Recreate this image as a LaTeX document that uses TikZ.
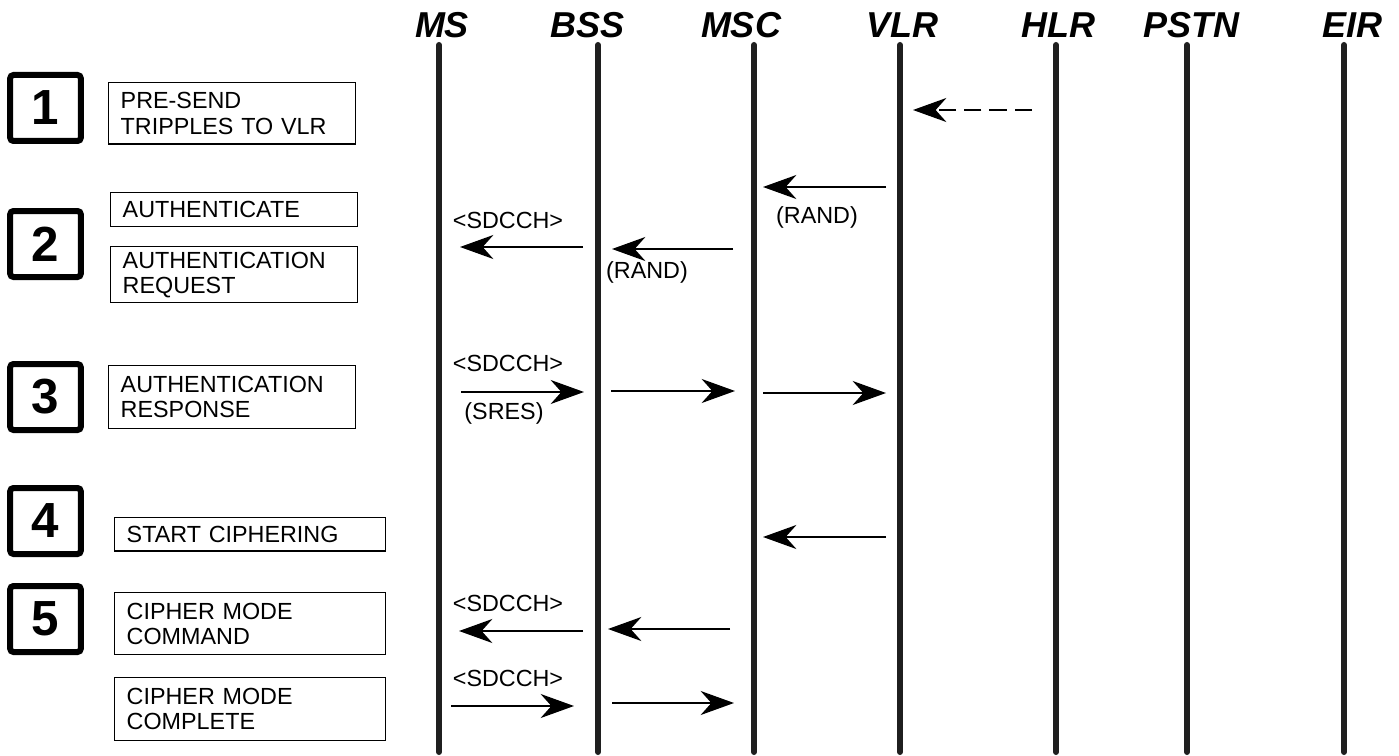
\documentclass[tikz,border=0pt]{standalone}
\usepackage{fontspec}
\setmainfont{Liberation Sans}
\usetikzlibrary{arrows.meta, positioning}

\begin{document}
\begin{tikzpicture}[x=0.75pt, y=-0.75pt,
    font=\fontsize{17.5pt}{19pt}\selectfont,
    hdr/.style   ={font=\fontsize{27pt}{29pt}\selectfont\bfseries\itshape, inner sep=0pt},
    life/.style  ={line width=4.5pt, line cap=round, black!88},
    numbox/.style={draw, line width=4.5pt, rounded corners=2.5pt, minimum width=53pt,
                   minimum height=49.5pt, inner sep=0pt,
                   font=\fontsize{37pt}{39pt}\selectfont\bfseries},
    msgbox/.style={draw, line width=1.1pt, anchor=north west, align=left,
                   text width=167pt, inner xsep=9pt, inner ysep=0pt},
    lbl/.style   ={inner sep=0pt},
    msg/.style   ={line width=1.6pt, -{Stealth[length=25pt, width=18pt, inset=8pt]}},
  ]
  \useasboundingbox (0,0) rectangle (1399,756);

  % Kopfzeile mit den Netzelementen
  \node[hdr] (ms)   at (442,25)  {MS};
  \node[hdr] (bss)  at (588,25)  {BSS};
  \node[hdr] (msc)  at (741,25)  {MSC};
  \node[hdr] (vlr)  at (902,25)  {VLR};
  \node[hdr] (hlr)  at (1058,25) {HLR};
  \node[hdr] (pstn) at (1191,25) {PSTN};
  \node[hdr] (eir)  at (1352,25) {EIR};

  % Lebenslinien
  \foreach \n/\x in {ms/439, bss/598, msc/754, vlr/900, hlr/1056, pstn/1187, eir/1344} {
    \coordinate (\n T) at (\x,45);
    \coordinate (\n B) at (\x,752);
    \draw[life] (\n T) -- (\n B);
  }

  % Schrittnummern
  \node[numbox] (n1) at (45.5,108) {1};
  \node[numbox] (n2) at (45.5,244) {2};
  \node[numbox] (n3) at (45.5,397) {3};
  \node[numbox] (n4) at (45.5,521) {4};
  \node[numbox] (n5) at (45.5,619) {5};

  % Beschriftungskaesten der Meldungen
  \node[msgbox, minimum height=46pt] (b1)  at (108,82)  {PRE-SEND\\TRIPPLES TO VLR};
  \node[msgbox, minimum height=25.5pt] (b2a) at (110,192) {AUTHENTICATE};
  \node[msgbox, minimum height=42pt] (b2b) at (110,246) {AUTHENTICATION\\REQUEST};
  \node[msgbox, minimum height=47pt] (b3)  at (108,365) {AUTHENTICATION\\RESPONSE};
  \node[msgbox, text width=185pt, minimum height=25pt] (b4)  at (114,517) {START CIPHERING};
  \node[msgbox, text width=185pt, minimum height=46.5pt] (b5a) at (114,592) {CIPHER MODE\\COMMAND};
  \node[msgbox, text width=185pt, minimum height=47pt] (b5b) at (114,677) {CIPHER MODE\\COMPLETE};

  % 1: Tripel vom HLR (gestrichelt)
  \coordinate (h1) at (1032,110);
  \coordinate (v1) at (913,110);
  \draw[msg, dash pattern=on 13pt off 6pt] (h1) -- (v1);

  % 2: Authentifizierung
  \coordinate (v2) at (886,187);  \coordinate (m2) at (763,187);
  \coordinate (m2b) at (733,249); \coordinate (b2) at (612,249);
  \coordinate (b2m) at (583,247); \coordinate (s2) at (460,247);
  \draw[msg] (v2) -- (m2);
  \draw[msg] (m2b) -- (b2);
  \draw[msg] (b2m) -- (s2);
  \node[lbl] (r2a) at (817,217) {(RAND)};
  \node[lbl] (r2b) at (647,272) {(RAND)};
  \node[lbl] (c2)  at (508,220) {<SDCCH>};

  % 3: Antwort SRES
  \coordinate (s3) at (461,392);  \coordinate (b3a) at (584,392);
  \coordinate (b3b) at (611,391); \coordinate (m3a) at (735,391);
  \coordinate (m3b) at (763,393); \coordinate (v3) at (886,393);
  \draw[msg] (s3) -- (b3a);
  \draw[msg] (b3b) -- (m3a);
  \draw[msg] (m3b) -- (v3);
  \node[lbl] (c3) at (508,363) {<SDCCH>};
  \node[lbl] (sr) at (504,413) {(SRES)};

  % 4: Start Ciphering
  \coordinate (v4) at (886,537); \coordinate (m4) at (763,537);
  \draw[msg] (v4) -- (m4);

  % 5: Cipher Mode Command / Complete
  \coordinate (m5) at (730,629);  \coordinate (b5) at (608,629);
  \coordinate (b5m) at (583,631); \coordinate (s5) at (459,631);
  \draw[msg] (m5) -- (b5);
  \draw[msg] (b5m) -- (s5);
  \node[lbl] (c5) at (508,603) {<SDCCH>};

  \coordinate (s6) at (451,706);  \coordinate (b6) at (574,706);
  \coordinate (b6m) at (612,703); \coordinate (m6) at (734,703);
  \draw[msg] (s6) -- (b6);
  \draw[msg] (b6m) -- (m6);
  \node[lbl] (c6) at (508,678) {<SDCCH>};
\end{tikzpicture}
\end{document}
